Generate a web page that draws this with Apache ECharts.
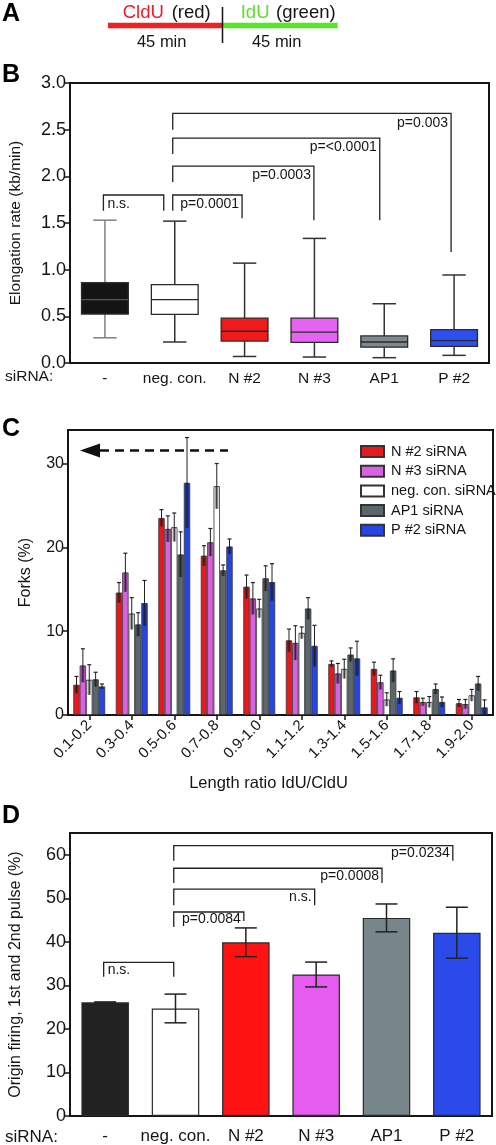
<!DOCTYPE html>
<html><head><meta charset="utf-8">
<script src="https://cdn.jsdelivr.net/npm/echarts@6/dist/echarts.min.js"></script>
<style>html,body{margin:0;padding:0;background:#fff}#c{width:496px;height:1145px}</style>
</head><body><div id="c"></div>
<script>
const FONT = '"Liberation Sans", Arial, Helvetica, sans-serif';

// ---------- Panel B: elongation rate box plots ----------
const groupsB = ['-', 'neg. con.', 'N #2', 'N #3', 'AP1', 'P #2'];
const boxMin = [0.27, 0.225, 0.07, 0.064, 0.057, 0.082];
const boxQ1  = [0.525, 0.52, 0.235, 0.22, 0.17, 0.178];
const boxMed = [0.68, 0.68, 0.34, 0.33, 0.225, 0.24];
const boxQ3  = [0.86, 0.84, 0.48, 0.48, 0.29, 0.357];
const boxMax = [1.53, 1.52, 1.07, 1.335, 0.635, 0.943];
const boxFill = ['#141414', '#ffffff', '#f01a1a', '#e463f0', '#7d898f', '#2d4ff0'];
const boxWhisker = ['#808080', '#333333', '#333333', '#333333', '#333333', '#333333'];

const brBFrom = [0, 1, 1, 1, 1];
const brBTo = [1, 2, 3, 4, 5];
const brBTop = [1.8, 1.8, 2.11, 2.41, 2.675];
const brBLeftEnd = [1.63, 1.63, 1.94, 2.24, 2.5];
const brBRightEnd = [1.63, 1.55, 1.53, 1.53, 1.19];
const brBLabels = ['n.s.', 'p=0.0001', 'p=0.0003', 'p=<0.0001', 'p=0.003'];

// ---------- Panel C: length ratio histogram ----------
const ratioBins = ['0.1-0.2', '0.3-0.4', '0.5-0.6', '0.7-0.8', '0.9-1.0', '1.1-1.2', '1.3-1.4', '1.5-1.6', '1.7-1.8', '1.9-2.0'];
const seriesNamesC = ['N #2 siRNA', 'N #3 siRNA', 'neg. con. siRNA', 'AP1 siRNA', 'P #2 siRNA'];
const n2Vals  = [3.6, 14.6, 23.5, 19.0, 15.3, 8.9, 6.1, 5.5, 2.1, 1.4];
const n2Err   = [1.0, 1.2, 1.0, 1.2, 1.4, 1.35, 0.35, 0.8, 0.7, 0.45];
const n3Vals  = [5.9, 17.0, 22.2, 20.6, 13.9, 8.6, 4.95, 3.9, 1.55, 1.3];
const n3Err   = [2.0, 2.3, 1.55, 1.65, 1.9, 2.05, 1.2, 0.85, 0.45, 0.55];
const negVals = [4.2, 12.1, 22.4, 27.3, 12.7, 9.8, 5.5, 1.85, 1.55, 2.35];
const negErr  = [1.8, 1.9, 1.7, 2.7, 1.1, 0.7, 1.15, 0.8, 0.65, 0.7];
const ap1Vals = [4.25, 10.8, 19.15, 17.25, 16.3, 12.7, 7.2, 5.3, 3.1, 3.75];
const ap1Err  = [0.85, 1.4, 2.7, 0.65, 1.5, 1.3, 0.8, 1.4, 0.6, 0.85];
const p2Vals  = [3.4, 13.35, 27.7, 20.1, 15.85, 8.25, 6.75, 2.05, 1.55, 0.9];
const p2Err   = [0.3, 2.7, 5.4, 0.9, 2.2, 2.45, 2.05, 0.75, 0.6, 0.9];
const colorsC = ['#e8191c', '#d862e2', '#ffffff', '#5c676c', '#2545e5'];
const yTicksC = [0, 10, 20, 30];

// ---------- Panel D: origin firing ----------
const groupsD = ['-', 'neg. con.', 'N #2', 'N #3', 'AP1', 'P #2'];
const firingVals = [26.1, 24.7, 39.9, 32.5, 45.5, 42.1];
const firingErr  = [0.1, 3.3, 3.3, 2.85, 3.2, 5.85];
const colorsD = ['#222222', '#ffffff', '#ff1212', '#e65cf0', '#77868b', '#2b4aea'];
const yTicksD = [0, 10, 20, 30, 40, 50, 60];

const brDFrom = [0, 1, 1, 1, 1];
const brDTo = [1, 2, 3, 4, 5];
const brDTop = [35.3, 46.85, 52.1, 56.9, 62.1];
const brDLeftEnd = [32, 43.4, 48.4, 53.5, 58.6];
const brDRightEnd = [32, 44.8, 48.4, 53.5, 58.6];
const brDLabels = ['n.s.', 'p=0.0084', 'n.s.', 'p=0.0008', 'p=0.0234'];

// ---------- helpers ----------
const INK = '#151515';

function bracketRenderer(labels, offL, offR, dy) {
  return function (params, api) {
    const i = params.dataIndex;
    const a = api.coord([api.value(0), api.value(2)]);
    const b = api.coord([api.value(1), api.value(2)]);
    const yl = api.coord([api.value(0), api.value(3)])[1];
    const yr = api.coord([api.value(1), api.value(4)])[1];
    const x1 = a[0] + offL[i], x2 = b[0] + offR[i], yt = a[1];
    const leftLabel = labels[i] === 'n.s.' && i === 0;
    return {
      type: 'group',
      children: [
        { type: 'polyline', shape: { points: [[x1, yl], [x1, yt], [x2, yt], [x2, yr]] },
          style: { stroke: '#222', lineWidth: 1.3, fill: 'none' } },
        { type: 'text', style: { text: labels[i], x: leftLabel ? x1 + 4 : x2 - 3, y: yt + dy,
          align: leftLabel ? 'left' : 'right', verticalAlign: 'middle',
          fontSize: 14, fontFamily: FONT, fill: INK } }
      ]
    };
  };
}

function boxRender(params, api) {
  const i = params.dataIndex;
  const x = api.value(0);
  const pMin = api.coord([x, api.value(1)]);
  const pQ1 = api.coord([x, api.value(2)]);
  const pMed = api.coord([x, api.value(3)]);
  const pQ3 = api.coord([x, api.value(4)]);
  const pMax = api.coord([x, api.value(5)]);
  const band = api.size([1, 0])[0];
  const bw = band * 0.67;
  const cx = pMed[0];
  const cap = bw / 4;
  const wc = boxWhisker[i];
  const lineStyle = { stroke: wc, lineWidth: 1.5 };
  const boxStroke = '#2a2a2a';
  return {
    type: 'group',
    children: [
      { type: 'line', shape: { x1: cx, y1: pMax[1], x2: cx, y2: pQ3[1] }, style: lineStyle },
      { type: 'line', shape: { x1: cx, y1: pQ1[1], x2: cx, y2: pMin[1] }, style: lineStyle },
      { type: 'line', shape: { x1: cx - cap, y1: pMax[1], x2: cx + cap, y2: pMax[1] }, style: lineStyle },
      { type: 'line', shape: { x1: cx - cap, y1: pMin[1], x2: cx + cap, y2: pMin[1] }, style: lineStyle },
      { type: 'rect', shape: { x: cx - bw / 2, y: pQ3[1], width: bw, height: pQ1[1] - pQ3[1] },
        style: { fill: boxFill[i], stroke: boxStroke, lineWidth: 1.3 } },
      { type: 'line', shape: { x1: cx - bw / 2, y1: pMed[1], x2: cx + bw / 2, y2: pMed[1] },
        style: { stroke: i === 0 ? '#555' : '#2a2a2a', lineWidth: 1.3 } }
    ]
  };
}

function errCRender(params, api) {
  const cat = api.value(0), s = api.value(1), v = api.value(2), e = api.value(3);
  const band = api.size([1, 0])[0];
  const bw = band * 0.75 / 5;
  const base = api.coord([cat, v]);
  const cx = base[0] + (s - 2) * bw;
  const yTop = api.coord([cat, v + e])[1];
  const yLow = api.coord([cat, Math.max(v - e, 0)])[1];
  return {
    type: 'group',
    children: [
      { type: 'rect', shape: { x: cx - bw * 0.28, y: base[1], width: bw * 0.56, height: yLow - base[1] },
        style: { fill: 'rgba(0,0,0,0.35)' } },
      { type: 'line', shape: { x1: cx, y1: yTop, x2: cx, y2: yLow }, style: { stroke: '#222', lineWidth: 1 } },
      { type: 'line', shape: { x1: cx - 2, y1: yTop, x2: cx + 2, y2: yTop }, style: { stroke: '#222', lineWidth: 1.2 } }
    ]
  };
}

function errDRender(params, api) {
  const x = api.value(0), v = api.value(1), e = api.value(2);
  const top = api.coord([x, v + e]);
  const bot = api.coord([x, v - e]);
  const cx = top[0];
  const cap = 11;
  const st = { stroke: '#222', lineWidth: 1.5 };
  return {
    type: 'group',
    children: [
      { type: 'line', shape: { x1: cx, y1: top[1], x2: cx, y2: bot[1] }, style: st },
      { type: 'line', shape: { x1: cx - cap, y1: top[1], x2: cx + cap, y2: top[1] }, style: st },
      { type: 'line', shape: { x1: cx - cap, y1: bot[1], x2: cx + cap, y2: bot[1] }, style: st }
    ]
  };
}

const axisLineStyle = { color: INK, width: 2 };
const gridBorder = { show: true, borderColor: INK, borderWidth: 2, backgroundColor: 'transparent' };

const chart = echarts.init(document.getElementById('c'), null, { renderer: 'canvas' });

const cSeries = [n2Vals, n3Vals, negVals, ap1Vals, p2Vals];
const cErrs = [n2Err, n3Err, negErr, ap1Err, p2Err];
const errCData = [];
cSeries.forEach((vals, s) => vals.forEach((v, c) => errCData.push([c, s, v, cErrs[s][c]])));

const option = {
  animation: false,
  textStyle: { fontFamily: FONT, color: INK },
  grid: [
    Object.assign({ left: 68, top: 83, width: 421, height: 280 }, gridBorder),
    Object.assign({ left: 68, top: 430, width: 425, height: 285 }, gridBorder),
    Object.assign({ left: 68, top: 833, width: 424, height: 283 }, gridBorder)
  ],
  xAxis: [
    { type: 'category', gridIndex: 0, data: groupsB,
      axisLine: { lineStyle: axisLineStyle }, axisTick: { show: false },
      axisLabel: { interval: 0, fontSize: 15.5, color: INK, margin: 8, fontFamily: FONT } },
    { type: 'category', gridIndex: 1, data: ratioBins,
      axisLine: { lineStyle: axisLineStyle },
      axisTick: { show: true, interval: 0, alignWithLabel: true, length: 5, lineStyle: { color: INK, width: 1.5 } },
      axisLabel: { interval: 0, fontSize: 15, color: INK, rotate: 45, margin: 8, fontFamily: FONT },
      name: 'Length ratio IdU/CldU', nameLocation: 'middle', nameGap: 60,
      nameTextStyle: { fontSize: 16.5, color: INK, fontFamily: FONT, padding: [0, 24, 0, 0] } },
    { type: 'category', gridIndex: 2, data: groupsD,
      axisLine: { lineStyle: axisLineStyle }, axisTick: { show: false },
      axisLabel: { interval: 0, fontSize: 17, color: INK, margin: 12, fontFamily: FONT } }
  ],
  yAxis: [
    { type: 'value', gridIndex: 0, min: 0, max: 3, interval: 0.5,
      axisLine: { show: true, lineStyle: axisLineStyle },
      axisTick: { show: true, length: 6, lineStyle: { color: INK, width: 1.5 } },
      splitLine: { show: false },
      axisLabel: { fontSize: 18, color: INK, margin: 4, fontFamily: FONT, formatter: v => v.toFixed(1) },
      name: 'Elongation rate (kb/min)', nameLocation: 'middle', nameGap: 46,
      nameTextStyle: { fontSize: 15.5, color: INK, fontFamily: FONT } },
    { type: 'value', gridIndex: 1, min: 0, max: 34,
      axisLine: { show: true, lineStyle: axisLineStyle },
      axisTick: { show: true, length: 6, customValues: yTicksC, lineStyle: { color: INK, width: 1.5 } },
      splitLine: { show: false },
      axisLabel: { fontSize: 16, color: INK, margin: 4, fontFamily: FONT, customValues: yTicksC },
      name: 'Forks (%)', nameLocation: 'middle', nameGap: 34,
      nameTextStyle: { fontSize: 16, color: INK, fontFamily: FONT } },
    { type: 'value', gridIndex: 2, min: 0, max: 65,
      axisLine: { show: true, lineStyle: axisLineStyle },
      axisTick: { show: true, length: 6, customValues: yTicksD, lineStyle: { color: INK, width: 1.5 } },
      splitLine: { show: false },
      axisLabel: { fontSize: 18, color: INK, margin: 4, fontFamily: FONT, customValues: yTicksD },
      name: 'Origin firing, 1st and 2nd pulse (%)', nameLocation: 'middle', nameGap: 46,
      nameTextStyle: { fontSize: 16, color: INK, fontFamily: FONT } }
  ],
  legend: {
    data: seriesNamesC, orient: 'vertical', left: 355, top: 439,
    itemWidth: 23, itemHeight: 11, itemGap: 4.7, icon: 'rect',
    textStyle: { fontSize: 14.5, color: INK, fontFamily: FONT, lineHeight: 15, padding: [0, 0, 0, 2] },
    selectedMode: false
  },
  series: [
    { type: 'custom', name: 'boxes', xAxisIndex: 0, yAxisIndex: 0, renderItem: boxRender, silent: true,
      data: groupsB.map((g, i) => [i, boxMin[i], boxQ1[i], boxMed[i], boxQ3[i], boxMax[i]]) },
    { type: 'custom', name: 'bracketsB', xAxisIndex: 0, yAxisIndex: 0, silent: true, clip: false,
      renderItem: bracketRenderer(brBLabels, [-1.5, -2, -2, -2, -2], [-11, -2.5, -0.5, -4.5, -3], 9.5),
      data: brBFrom.map((f, i) => [f, brBTo[i], brBTop[i], brBLeftEnd[i], brBRightEnd[i]]) },

    ...seriesNamesC.map((nm, s) => ({
      type: 'bar', name: nm, xAxisIndex: 1, yAxisIndex: 1, data: cSeries[s],
      barGap: '0%', barCategoryGap: '25%', silent: true,
      itemStyle: { color: colorsC[s], borderColor: '#333', borderWidth: 0.8 }
    })),
    { type: 'custom', name: 'errC', xAxisIndex: 1, yAxisIndex: 1, renderItem: errCRender, silent: true, z: 5,
      data: errCData },

    { type: 'bar', name: 'firing', xAxisIndex: 2, yAxisIndex: 2, barWidth: 47.5, silent: true,
      data: firingVals.map((v, i) => ({ value: v, itemStyle: { color: colorsD[i], borderColor: '#2a2a2a', borderWidth: 1.2 } })) },
    { type: 'custom', name: 'errD', xAxisIndex: 2, yAxisIndex: 2, renderItem: errDRender, silent: true, z: 5,
      data: firingVals.map((v, i) => [i, v, firingErr[i]]) },
    { type: 'custom', name: 'bracketsD', xAxisIndex: 2, yAxisIndex: 2, silent: true, clip: false,
      renderItem: bracketRenderer(brDLabels, [-1.5, -1.75, -1.75, -1.75, -1.75], [-1.75, -2, -1.5, -4.5, -4], 7.5),
      data: brDFrom.map((f, i) => [f, brDTo[i], brDTop[i], brDLeftEnd[i], brDRightEnd[i]]) }
  ],
  graphic: [
    // panel letters
    { type: 'text', left: 2, top: 2, style: { text: 'A', font: 'bold 25px ' + FONT, fill: '#000' } },
    { type: 'text', left: 2, top: 63, style: { text: 'B', font: 'bold 25px ' + FONT, fill: '#000' } },
    { type: 'text', left: 2, top: 417, style: { text: 'C', font: 'bold 25px ' + FONT, fill: '#000' } },
    { type: 'text', left: 2, top: 804, style: { text: 'D', font: 'bold 25px ' + FONT, fill: '#000' } },
    // panel A schematic
    { type: 'line', shape: { x1: 108, y1: 25.5, x2: 222.7, y2: 25.5 }, style: { stroke: '#ee2222', lineWidth: 5.5 } },
    { type: 'line', shape: { x1: 222.7, y1: 25.5, x2: 337.7, y2: 25.5 }, style: { stroke: '#55e825', lineWidth: 5.5 } },
    { type: 'line', shape: { x1: 222.5, y1: 7, x2: 222.5, y2: 43 }, style: { stroke: '#111', lineWidth: 1.5 } },
    { type: 'text', x: 122.7, y: 12.7, style: { text: 'CldU', font: '18.5px ' + FONT, fill: '#e8202a', verticalAlign: 'middle' } },
    { type: 'text', x: 171.7, y: 12.7, style: { text: '(red)', font: '18.5px ' + FONT, fill: INK, verticalAlign: 'middle' } },
    { type: 'text', x: 240.7, y: 12.7, style: { text: 'IdU', font: '18.5px ' + FONT, fill: '#5fdc2c', verticalAlign: 'middle' } },
    { type: 'text', x: 276, y: 12.7, style: { text: '(green)', font: '18.5px ' + FONT, fill: INK, verticalAlign: 'middle' } },
    { type: 'text', x: 161.7, y: 42.7, style: { text: '45 min', font: '16.5px ' + FONT, fill: INK, align: 'center', verticalAlign: 'middle' } },
    { type: 'text', x: 276.7, y: 42.7, style: { text: '45 min', font: '16.5px ' + FONT, fill: INK, align: 'center', verticalAlign: 'middle' } },
    // siRNA row labels
    { type: 'text', x: 5, y: 377, style: { text: 'siRNA:', font: '15.5px ' + FONT, fill: INK, verticalAlign: 'middle' } },
    { type: 'text', x: 5, y: 1137, style: { text: 'siRNA:', font: '17px ' + FONT, fill: INK, verticalAlign: 'middle' } },
    // dashed arrow in panel C
    { type: 'line', shape: { x1: 100, y1: 450.5, x2: 228, y2: 450.5 }, style: { stroke: '#111', lineWidth: 2.5, lineDash: [9, 6] } },
    { type: 'polygon', shape: { points: [[80, 450.5], [100, 443.5], [100, 457.5]] }, style: { fill: '#111' } }
  ]
};
chart.setOption(option);
</script>
</body></html>
